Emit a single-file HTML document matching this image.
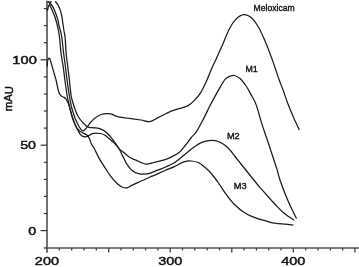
<!DOCTYPE html>
<html><head><meta charset="utf-8"><style>
html,body{margin:0;padding:0;background:#fff;width:359px;height:267px;overflow:hidden;}
svg{display:block;will-change:transform;}
text{font-family:"Liberation Sans",sans-serif;}
</style></head><body>
<svg width="359" height="267" viewBox="0 0 359 267">
<line x1="47.0" y1="0.8" x2="47.0" y2="252.8" stroke="#505050" stroke-width="1.6"/>
<line x1="43.8" y1="248.0" x2="359" y2="248.0" stroke="#505050" stroke-width="1.6"/>
<line x1="40.6" y1="230.6" x2="47.1" y2="230.6" stroke="#333" stroke-width="1.2"/>
<line x1="43.9" y1="213.5" x2="47.1" y2="213.5" stroke="#333" stroke-width="1.2"/>
<line x1="43.9" y1="196.4" x2="47.1" y2="196.4" stroke="#333" stroke-width="1.2"/>
<line x1="43.9" y1="179.4" x2="47.1" y2="179.4" stroke="#333" stroke-width="1.2"/>
<line x1="43.9" y1="162.3" x2="47.1" y2="162.3" stroke="#333" stroke-width="1.2"/>
<line x1="40.6" y1="145.2" x2="47.1" y2="145.2" stroke="#333" stroke-width="1.2"/>
<line x1="43.9" y1="128.1" x2="47.1" y2="128.1" stroke="#333" stroke-width="1.2"/>
<line x1="43.9" y1="111.0" x2="47.1" y2="111.0" stroke="#333" stroke-width="1.2"/>
<line x1="43.9" y1="94.0" x2="47.1" y2="94.0" stroke="#333" stroke-width="1.2"/>
<line x1="43.9" y1="76.9" x2="47.1" y2="76.9" stroke="#333" stroke-width="1.2"/>
<line x1="40.6" y1="59.8" x2="47.1" y2="59.8" stroke="#333" stroke-width="1.2"/>
<line x1="43.9" y1="42.7" x2="47.1" y2="42.7" stroke="#333" stroke-width="1.2"/>
<line x1="43.9" y1="25.6" x2="47.1" y2="25.6" stroke="#333" stroke-width="1.2"/>
<line x1="43.9" y1="8.6" x2="47.1" y2="8.6" stroke="#333" stroke-width="1.2"/>
<line x1="59.4" y1="248.3" x2="59.4" y2="250.4" stroke="#333" stroke-width="1.2"/>
<line x1="71.7" y1="248.3" x2="71.7" y2="250.4" stroke="#333" stroke-width="1.2"/>
<line x1="84.0" y1="248.3" x2="84.0" y2="250.4" stroke="#333" stroke-width="1.2"/>
<line x1="96.3" y1="248.3" x2="96.3" y2="250.4" stroke="#333" stroke-width="1.2"/>
<line x1="108.7" y1="248.3" x2="108.7" y2="252.6" stroke="#333" stroke-width="1.2"/>
<line x1="121.0" y1="248.3" x2="121.0" y2="250.4" stroke="#333" stroke-width="1.2"/>
<line x1="133.3" y1="248.3" x2="133.3" y2="250.4" stroke="#333" stroke-width="1.2"/>
<line x1="145.6" y1="248.3" x2="145.6" y2="250.4" stroke="#333" stroke-width="1.2"/>
<line x1="157.9" y1="248.3" x2="157.9" y2="250.4" stroke="#333" stroke-width="1.2"/>
<line x1="170.2" y1="248.3" x2="170.2" y2="252.6" stroke="#333" stroke-width="1.2"/>
<line x1="182.5" y1="248.3" x2="182.5" y2="250.4" stroke="#333" stroke-width="1.2"/>
<line x1="194.8" y1="248.3" x2="194.8" y2="250.4" stroke="#333" stroke-width="1.2"/>
<line x1="207.2" y1="248.3" x2="207.2" y2="250.4" stroke="#333" stroke-width="1.2"/>
<line x1="219.5" y1="248.3" x2="219.5" y2="250.4" stroke="#333" stroke-width="1.2"/>
<line x1="231.8" y1="248.3" x2="231.8" y2="252.6" stroke="#333" stroke-width="1.2"/>
<line x1="244.1" y1="248.3" x2="244.1" y2="250.4" stroke="#333" stroke-width="1.2"/>
<line x1="256.4" y1="248.3" x2="256.4" y2="250.4" stroke="#333" stroke-width="1.2"/>
<line x1="268.7" y1="248.3" x2="268.7" y2="250.4" stroke="#333" stroke-width="1.2"/>
<line x1="281.0" y1="248.3" x2="281.0" y2="250.4" stroke="#333" stroke-width="1.2"/>
<line x1="293.3" y1="248.3" x2="293.3" y2="252.6" stroke="#333" stroke-width="1.2"/>
<line x1="305.7" y1="248.3" x2="305.7" y2="250.4" stroke="#333" stroke-width="1.2"/>
<line x1="318.0" y1="248.3" x2="318.0" y2="250.4" stroke="#333" stroke-width="1.2"/>
<line x1="330.3" y1="248.3" x2="330.3" y2="250.4" stroke="#333" stroke-width="1.2"/>
<line x1="342.6" y1="248.3" x2="342.6" y2="250.4" stroke="#333" stroke-width="1.2"/>
<line x1="354.9" y1="248.3" x2="354.9" y2="252.6" stroke="#333" stroke-width="1.2"/>
<path d="M46.8 1.5 C47.0 1.6 47.3 1.3 48.0 1.8 C48.7 2.3 50.2 3.3 51.2 4.5 C52.2 5.7 53.1 7.3 53.9 9.0 C54.7 10.7 55.4 12.6 56.1 14.4 C56.8 16.2 57.4 18.0 57.9 19.8 C58.4 21.6 58.5 23.1 58.9 25.0 C59.3 26.9 60.0 28.8 60.5 31.0 C61.0 33.2 61.4 34.3 61.9 38.0 C62.4 41.7 63.0 48.3 63.6 53.0 C64.2 57.7 64.7 61.3 65.3 66.0 C65.9 70.7 66.5 76.0 67.2 81.0 C67.9 86.0 68.7 91.8 69.4 96.0 C70.1 100.2 70.7 103.2 71.3 106.0 C71.9 108.8 72.6 110.8 73.3 113.0 C74.0 115.2 74.7 117.3 75.6 119.4 C76.5 121.5 77.6 123.8 78.5 125.5 C79.4 127.2 80.4 128.7 81.2 129.6 C82.0 130.5 82.5 130.9 83.2 130.8 C83.9 130.7 84.7 129.8 85.5 129.0 C86.3 128.2 87.0 127.0 88.0 125.8 C89.0 124.6 90.0 123.0 91.3 121.6 C92.6 120.2 94.3 118.7 95.8 117.6 C97.2 116.5 98.7 115.6 100.0 115.0 C101.3 114.4 102.1 114.1 103.9 113.9 C105.7 113.7 108.9 113.6 110.7 113.9 C112.5 114.2 113.3 115.0 114.6 115.5 C115.9 116.0 116.1 116.3 118.5 116.8 C120.9 117.3 125.5 117.9 129.2 118.4 C132.9 118.9 137.5 119.5 140.9 120.0 C144.3 120.5 146.8 122.1 149.7 121.7 C152.6 121.3 155.7 118.8 158.5 117.4 C161.3 116.0 164.2 114.5 166.3 113.5 C168.4 112.5 168.9 112.1 171.2 111.2 C173.5 110.3 177.4 109.2 180.2 108.3 C183.0 107.4 185.8 106.8 188.1 105.6 C190.3 104.4 191.6 103.2 193.7 101.1 C195.8 99.0 198.3 96.4 200.4 93.2 C202.5 90.0 204.2 86.1 206.1 82.0 C208.0 77.9 210.1 72.2 211.7 68.5 C213.3 64.8 213.9 63.9 215.7 60.0 C217.5 56.1 220.2 50.0 222.5 44.9 C224.8 39.8 226.9 33.5 229.2 29.2 C231.4 24.9 233.6 21.5 236.0 19.1 C238.4 16.7 241.2 14.8 243.8 14.6 C246.4 14.4 249.3 15.9 251.7 18.0 C254.1 20.1 256.1 22.9 258.4 27.0 C260.7 31.1 263.3 36.9 265.7 42.5 C268.1 48.1 270.2 54.1 272.5 60.4 C274.8 66.7 277.5 75.3 279.2 80.0 C280.9 84.7 281.0 84.5 282.5 88.5 C284.0 92.5 286.2 99.3 288.1 104.2 C290.0 109.1 291.8 113.4 293.7 117.7 C295.6 122.0 298.4 128.0 299.3 130.0" fill="none" stroke="#1a1a1a" stroke-width="1.25" stroke-linejoin="round"/>
<path d="M55.2 1.3 C55.7 2.0 57.3 3.7 58.2 5.2 C59.1 6.8 59.8 8.8 60.4 10.6 C61.0 12.4 61.4 14.2 61.8 16.0 C62.2 17.8 62.4 20.1 62.6 21.6 C62.8 23.1 62.9 23.4 63.1 25.0 C63.3 26.6 63.6 28.8 64.0 31.0 C64.3 33.2 64.9 34.3 65.2 38.0 C65.5 41.7 65.7 48.3 66.1 53.0 C66.5 57.7 67.1 61.3 67.7 66.0 C68.3 70.7 68.9 76.0 69.5 81.0 C70.1 86.0 70.5 92.0 71.2 96.0 C71.9 100.0 72.9 102.6 73.6 105.0 C74.3 107.4 74.9 108.9 75.5 110.5 C76.1 112.1 76.5 113.4 77.2 114.7 C77.9 116.0 78.6 117.2 79.5 118.5 C80.4 119.8 81.5 121.1 82.5 122.2 C83.5 123.3 84.6 124.5 85.5 125.2 C86.4 126.0 87.0 126.3 87.7 126.7 C88.5 127.1 89.0 127.4 90.0 127.6 C91.0 127.8 92.4 127.6 94.0 127.8 C95.6 128.0 97.8 128.1 99.5 128.6 C101.2 129.1 102.9 129.8 104.5 130.9 C106.1 132.0 107.7 133.6 109.0 135.0 C110.3 136.4 111.5 138.2 112.6 139.5 C113.6 140.8 114.5 142.0 115.3 143.1 C116.1 144.2 116.8 145.3 117.5 146.3 C118.2 147.3 118.7 148.1 119.3 149.2 C119.9 150.2 120.3 151.1 121.0 152.6 C121.7 154.1 122.8 156.2 123.7 158.0 C124.6 159.8 125.1 161.4 126.4 163.4 C127.8 165.4 129.8 168.5 131.8 170.2 C133.8 171.9 136.0 173.0 138.5 173.6 C141.0 174.2 143.9 174.3 147.0 173.8 C150.1 173.3 154.1 171.5 157.1 170.4 C160.1 169.3 162.1 168.5 165.0 167.2 C167.9 165.9 171.3 164.8 174.4 162.8 C177.5 160.8 180.7 157.8 183.8 155.3 C186.9 152.8 190.0 150.0 193.1 147.8 C196.2 145.6 199.4 143.4 202.5 142.2 C205.6 140.9 209.2 140.4 211.9 140.3 C214.7 140.2 216.8 141.0 219.0 141.8 C221.2 142.6 223.2 143.8 225.0 145.2 C226.8 146.6 228.3 148.1 230.0 150.0 C231.7 151.9 233.2 154.2 235.0 156.5 C236.8 158.8 239.0 161.5 241.0 164.0 C243.0 166.5 245.0 169.0 247.0 171.5 C249.0 174.0 251.0 176.5 253.0 179.0 C255.0 181.5 257.0 183.9 259.0 186.3 C261.0 188.7 263.0 190.9 265.0 193.2 C267.0 195.4 269.0 197.6 271.0 199.8 C273.0 202.0 274.9 204.2 277.0 206.4 C279.1 208.6 281.8 211.3 283.8 213.0 C285.8 214.7 287.3 215.6 289.0 216.8 C290.7 218.0 293.2 219.7 294.1 220.3" fill="none" stroke="#1a1a1a" stroke-width="1.25" stroke-linejoin="round"/>
<path d="M47.3 11.0 C47.5 10.3 48.0 7.9 48.4 6.8 C48.8 5.7 49.0 4.6 49.4 4.6 C49.8 4.6 50.1 6.0 50.6 6.9 C51.1 7.8 51.5 8.5 52.1 9.9 C52.7 11.3 53.6 13.5 54.3 15.3 C55.0 17.1 55.6 19.1 56.1 20.7 C56.6 22.3 56.8 23.3 57.2 25.0 C57.6 26.7 58.1 28.8 58.5 31.0 C58.9 33.2 59.2 34.3 59.6 38.0 C60.0 41.7 60.4 48.3 61.0 53.0 C61.6 57.7 62.4 61.3 63.1 66.0 C63.8 70.7 64.3 76.0 65.0 81.0 C65.7 86.0 66.6 92.4 67.2 96.0 C67.8 99.6 68.1 100.2 68.6 102.5 C69.1 104.8 69.5 106.8 70.2 109.6 C70.9 112.4 72.1 116.6 73.0 119.2 C73.9 121.8 74.6 123.4 75.4 125.2 C76.2 127.0 77.0 128.5 77.8 130.0 C78.6 131.5 79.3 133.2 80.3 134.3 C81.2 135.4 82.5 136.2 83.5 136.6 C84.5 137.0 85.5 136.8 86.5 136.6 C87.5 136.4 88.5 135.7 89.5 135.2 C90.5 134.7 91.4 134.0 92.5 133.7 C93.6 133.4 94.7 133.2 96.0 133.2 C97.3 133.2 99.0 133.2 100.4 133.5 C101.8 133.8 103.1 134.2 104.5 135.0 C105.9 135.8 107.7 137.3 109.0 138.4 C110.3 139.5 111.5 140.7 112.6 141.6 C113.6 142.5 114.5 143.3 115.3 144.1 C116.1 144.9 116.8 145.8 117.5 146.6 C118.2 147.4 118.6 148.2 119.5 149.1 C120.4 149.9 121.6 150.8 122.8 151.7 C124.0 152.6 125.2 153.8 126.4 154.8 C127.6 155.8 128.8 156.8 130.0 157.5 C131.2 158.2 132.6 158.9 133.6 159.3 C134.6 159.8 134.0 159.4 136.0 160.2 C138.0 161.0 142.6 163.7 145.5 164.1 C148.4 164.5 150.4 163.3 153.7 162.6 C156.9 161.8 161.9 160.6 165.0 159.6 C168.1 158.6 170.2 157.5 172.5 156.3 C174.8 155.1 176.9 154.4 179.1 152.5 C181.3 150.6 183.6 147.5 185.6 145.0 C187.6 142.5 189.5 139.7 191.3 137.5 C193.1 135.3 194.4 134.7 196.3 131.8 C198.2 128.9 200.5 124.6 202.9 120.0 C205.3 115.4 208.1 109.3 210.7 104.3 C213.3 99.3 216.2 94.1 218.6 89.9 C221.0 85.8 223.1 81.7 225.1 79.4 C227.1 77.1 228.9 76.7 230.4 76.0 C231.9 75.3 232.8 75.2 234.3 75.5 C235.8 75.8 237.5 76.3 239.5 78.1 C241.5 79.8 244.1 83.2 246.1 86.0 C248.1 88.8 249.6 91.9 251.3 95.1 C253.0 98.2 254.4 100.2 256.2 104.9 C257.9 109.7 260.2 118.6 261.8 123.6 C263.4 128.6 264.4 131.3 265.6 135.0 C266.9 138.7 267.5 140.4 269.3 146.0 C271.1 151.6 274.9 162.7 276.7 168.4 C278.5 174.1 278.5 175.6 280.0 180.0 C281.5 184.4 283.7 190.3 285.6 195.0 C287.5 199.7 289.5 204.2 291.3 208.1 C293.1 212.0 295.6 216.8 296.5 218.5" fill="none" stroke="#1a1a1a" stroke-width="1.25" stroke-linejoin="round"/>
<path d="M47.2 66.5 C47.2 65.8 47.3 63.7 47.4 62.5 C47.5 61.3 47.6 60.2 48.0 59.5 C48.4 58.8 49.1 57.6 49.6 58.2 C50.1 58.8 50.7 61.4 51.2 63.1 C51.7 64.8 52.2 66.6 52.7 68.4 C53.2 70.2 53.8 72.2 54.3 74.0 C54.8 75.8 55.5 77.9 55.9 79.4 C56.3 80.9 56.4 81.6 56.7 83.0 C57.0 84.4 57.4 86.5 57.7 88.0 C58.1 89.5 58.4 90.9 58.8 92.0 C59.2 93.1 59.6 94.0 60.1 94.7 C60.6 95.4 61.1 95.8 61.7 96.3 C62.4 96.8 63.3 97.0 64.0 97.4 C64.7 97.8 65.3 98.2 65.9 98.9 C66.5 99.6 66.9 100.6 67.4 101.5 C67.9 102.4 68.2 103.2 68.7 104.5 C69.2 105.8 69.5 107.1 70.2 109.6 C70.9 112.0 72.1 116.6 73.0 119.2 C73.9 121.8 74.6 123.5 75.4 125.2 C76.2 126.9 77.0 128.1 77.8 129.2 C78.6 130.3 79.5 130.9 80.5 131.6 C81.5 132.3 82.5 132.7 83.5 133.2 C84.5 133.7 85.7 134.2 86.5 134.8 C87.3 135.4 87.8 136.1 88.4 136.9 C89.0 137.7 89.4 138.5 89.9 139.7 C90.4 140.9 90.7 142.6 91.4 144.0 C92.1 145.4 92.8 145.8 94.1 148.2 C95.4 150.6 97.6 155.5 99.3 158.6 C101.0 161.7 102.5 163.9 104.4 166.8 C106.3 169.7 108.5 173.3 110.6 176.1 C112.7 178.8 114.9 181.5 116.8 183.3 C118.7 185.1 120.3 186.2 122.0 187.0 C123.7 187.8 125.5 188.1 127.1 187.8 C128.7 187.5 129.3 186.6 131.8 185.4 C134.3 184.2 138.9 182.2 141.9 180.8 C144.9 179.4 147.5 178.1 150.0 177.0 C152.5 175.9 154.4 175.2 156.9 174.1 C159.4 173.0 162.1 171.8 165.0 170.5 C167.9 169.2 171.3 168.0 174.4 166.6 C177.5 165.2 181.0 162.8 183.8 161.9 C186.6 161.0 188.8 160.8 191.3 161.0 C193.8 161.2 196.3 161.6 198.8 162.8 C201.3 164.1 204.2 166.6 206.3 168.5 C208.5 170.4 209.7 171.6 211.7 174.0 C213.7 176.4 216.2 179.8 218.5 183.0 C220.8 186.2 222.6 189.5 225.2 193.1 C227.8 196.7 230.8 200.9 234.2 204.3 C237.6 207.7 241.7 211.0 245.4 213.3 C249.2 215.6 253.4 217.1 256.7 218.3 C260.0 219.5 262.4 219.9 265.0 220.7 C267.6 221.4 267.8 222.1 272.5 222.8 C277.2 223.5 290.0 224.6 293.5 225.0" fill="none" stroke="#1a1a1a" stroke-width="1.25" stroke-linejoin="round"/>
<path d="M49.4 4.6 C49.7 4.1 50.9 1.9 51.2 1.4" fill="none" stroke="#1a1a1a" stroke-width="1.25"/>
<path d="M46.5 1.6 L51.6 1.6" fill="none" stroke="#555" stroke-width="1.0"/>
<text transform="translate(36.80 63.80) scale(1.310 1)" text-anchor="end" font-family="Liberation Sans" font-size="11.20" fill="#111" stroke="#111" stroke-width="0.45">100</text>
<text transform="translate(36.00 148.90) scale(1.270 1)" text-anchor="end" font-family="Liberation Sans" font-size="11.20" fill="#111" stroke="#111" stroke-width="0.45">50</text>
<text transform="translate(36.10 234.90) scale(1.270 1)" text-anchor="end" font-family="Liberation Sans" font-size="11.20" fill="#111" stroke="#111" stroke-width="0.45">0</text>
<text transform="translate(46.90 265.40) scale(1.290 1)" text-anchor="middle" font-family="Liberation Sans" font-size="11.20" fill="#111" stroke="#111" stroke-width="0.45">200</text>
<text transform="translate(170.20 265.40) scale(1.290 1)" text-anchor="middle" font-family="Liberation Sans" font-size="11.20" fill="#111" stroke="#111" stroke-width="0.45">300</text>
<text transform="translate(293.30 265.40) scale(1.290 1)" text-anchor="middle" font-family="Liberation Sans" font-size="11.20" fill="#111" stroke="#111" stroke-width="0.45">400</text>
<text transform="translate(12.5 98.7) rotate(-89.99)" text-anchor="middle" font-family="Liberation Sans" font-size="11.3" fill="#111" stroke="#111" stroke-width="0.45">mAU</text>
<text transform="translate(253.50 10.80) scale(1.052 1)" font-family="Liberation Sans" font-size="8.20" fill="#111" stroke="#111" stroke-width="0.35">Meloxicam</text>
<text transform="translate(245.40 72.10) scale(1.050 1)" font-family="Liberation Sans" font-size="8.40" fill="#111" stroke="#111" stroke-width="0.35">M1</text>
<text transform="translate(226.90 138.90) scale(1.100 1)" font-family="Liberation Sans" font-size="8.40" fill="#111" stroke="#111" stroke-width="0.35">M2</text>
<text transform="translate(233.80 189.20) scale(1.100 1)" font-family="Liberation Sans" font-size="8.40" fill="#111" stroke="#111" stroke-width="0.35">M3</text>
</svg>
</body></html>
